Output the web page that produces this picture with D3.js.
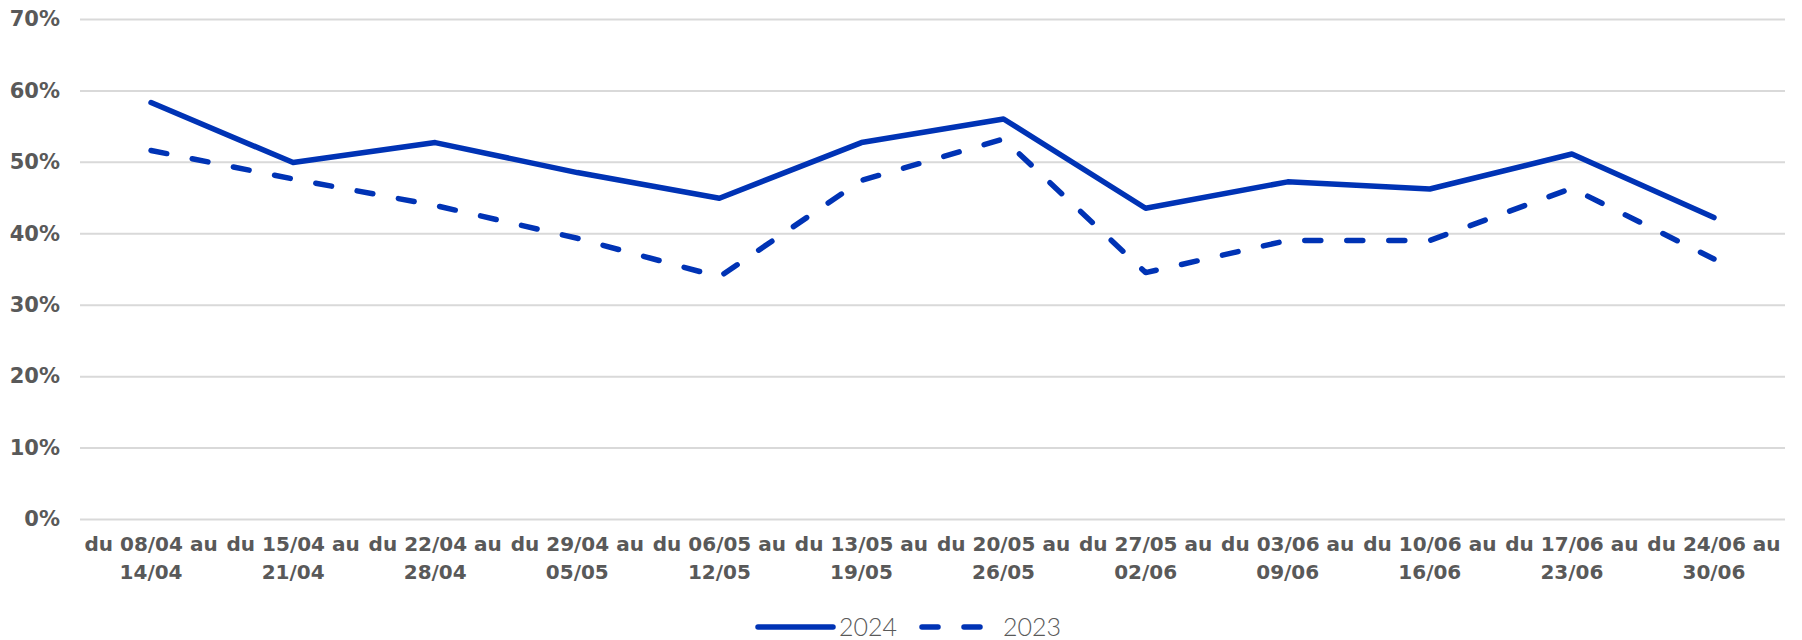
<!DOCTYPE html>
<meta charset="utf-8">
<script src="https://d3js.org/d3.v7.min.js"></script>
<style>
  body { margin: 0; background: #fff; }
</style>
<div id="chart"></div>
<script>
  // weeks (x categories)
  const weeks = [
    ["du 08/04 au", "14/04"],
    ["du 15/04 au", "21/04"],
    ["du 22/04 au", "28/04"],
    ["du 29/04 au", "05/05"],
    ["du 06/05 au", "12/05"],
    ["du 13/05 au", "19/05"],
    ["du 20/05 au", "26/05"],
    ["du 27/05 au", "02/06"],
    ["du 03/06 au", "09/06"],
    ["du 10/06 au", "16/06"],
    ["du 17/06 au", "23/06"],
    ["du 24/06 au", "30/06"]
  ];
  const values2024 = [58.3, 49.9, 52.7, 48.5, 44.9, 52.7, 56.0, 43.5, 47.2, 46.2, 51.1, 42.2];
  const values2023 = [51.6, 47.6, 43.9, 39.3, 33.9, 47.4, 53.2, 34.5, 39.0, 39.0, 46.3, 36.4];
  const yTicks = [0, 10, 20, 30, 40, 50, 60, 70];

  const width = 1802, height = 640;
  const marginLeft = 80, marginRight = 17, marginTop = 19, marginBottom = 121;
  const blue = "#0033b5";
  const grey = "#595959";
  const tickFont = "'DejaVu Sans', sans-serif";
  const legendFont = "Lato, 'Open Sans', sans-serif";

  const svg = d3.select("#chart").append("svg")
    .attr("width", width)
    .attr("height", height);

  const x = d3.scaleBand()
    .domain(d3.range(weeks.length))
    .range([marginLeft, width - marginRight]);

  const y = d3.scaleLinear()
    .domain([0, 70])
    .range([height - marginBottom, marginTop]);

  // gridlines + y labels
  const yAxis = svg.append("g")
    .attr("transform", `translate(${marginLeft},0)`)
    .call(d3.axisLeft(y).tickValues(yTicks).tickFormat(d => d + "%")
      .tickSize(-(width - marginLeft - marginRight)).tickPadding(20));
  yAxis.select(".domain").remove();
  yAxis.selectAll(".tick line").attr("stroke", "#d9d9d9").attr("stroke-width", 2);
  yAxis.selectAll(".tick text")
    .attr("fill", grey)
    .style("font-family", tickFont)
    .style("font-size", "21px")
    .style("font-weight", 700);

  // x labels (two lines)
  const xAxis = svg.append("g")
    .attr("transform", `translate(0,${height - marginBottom})`)
    .call(d3.axisBottom(x).tickSize(0).tickFormat(""));
  xAxis.select(".domain").remove();
  xAxis.selectAll(".tick").each(function (i) {
    const t = d3.select(this).append("text")
      .attr("fill", grey)
      .attr("text-anchor", "middle")
      .style("font-family", tickFont)
      .style("font-size", "20px")
      .style("font-weight", 700);
    t.append("tspan").attr("x", 0).attr("y", 32).text(weeks[i][0]);
    t.append("tspan").attr("x", 0).attr("y", 60).text(weeks[i][1]);
  });

  const line = d3.line()
    .x((d, i) => x(i) + x.bandwidth() / 2)
    .y(d => y(d));

  svg.append("path")
    .datum(values2023)
    .attr("fill", "none")
    .attr("stroke", blue)
    .attr("stroke-width", 5.5)
    .attr("stroke-linecap", "round")
    .attr("stroke-linejoin", "round")
    .attr("stroke-dasharray", "16 26")
    .attr("d", line);

  svg.append("path")
    .datum(values2024)
    .attr("fill", "none")
    .attr("stroke", blue)
    .attr("stroke-width", 5.5)
    .attr("stroke-linecap", "round")
    .attr("stroke-linejoin", "round")
    .attr("d", line);

  // legend
  const legend = svg.append("g").attr("transform", "translate(0,627)");
  const items = [
    { label: "2024", dash: null, x0: 758, x1: 833, tx: 839 },
    { label: "2023", dash: "16 26", x0: 922, x1: 989, tx: 1003 }
  ];
  items.forEach(d => {
    legend.append("line")
      .attr("x1", d.x0).attr("x2", d.x1)
      .attr("stroke", blue)
      .attr("stroke-width", 5.5)
      .attr("stroke-linecap", "round")
      .attr("stroke-dasharray", d.dash);
    legend.append("text")
      .attr("x", d.tx)
      .attr("y", 9)
      .attr("fill", grey)
      .style("font-family", legendFont)
      .style("font-size", "25px")
      .style("font-weight", 300)
      .text(d.label);
  });
</script>
